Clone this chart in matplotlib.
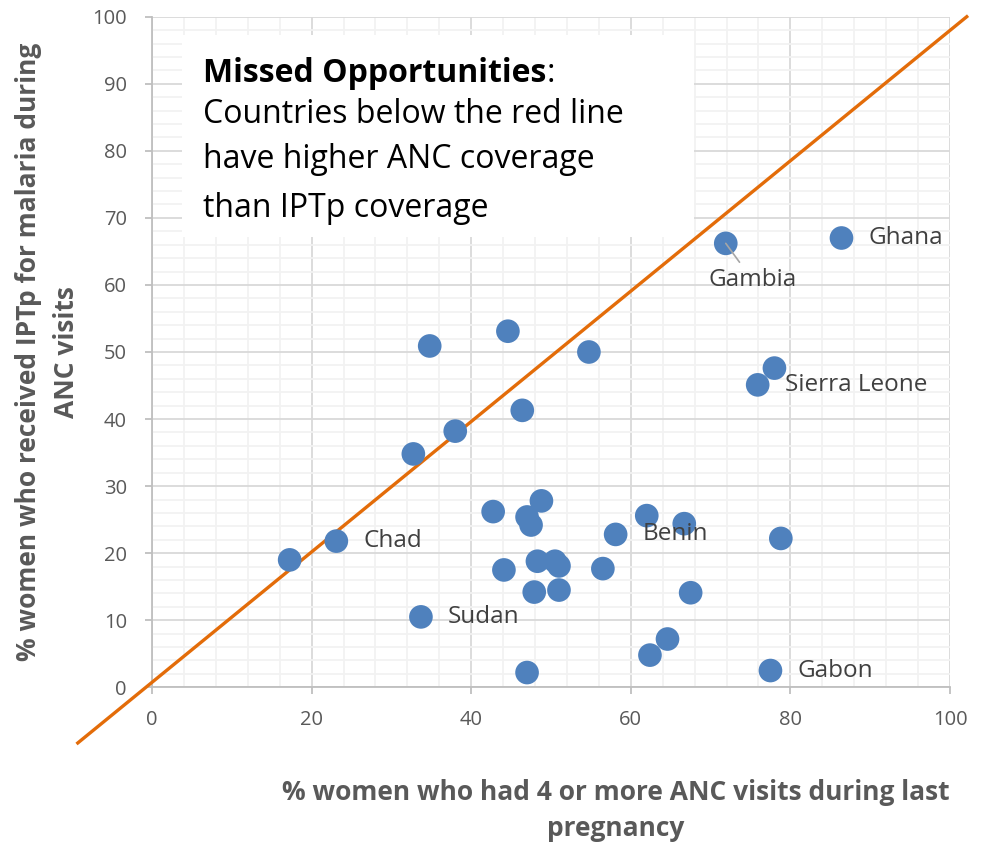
import matplotlib
matplotlib.use("Agg")
import matplotlib.pyplot as plt
from matplotlib.patches import Rectangle
from matplotlib.ticker import MultipleLocator

plt.rcParams['font.family'] = ['Open Sans', 'DejaVu Sans']

# % women with 4+ ANC visits (x) vs % receiving IPTp (y)
anc = [17.25, 23.1, 33.7, 32.75, 38.0, 34.8, 44.6, 54.75, 46.4, 42.75,
       48.8, 47.0, 47.5, 58.1, 62.0, 66.7, 78.8, 75.9, 78.0, 71.9,
       86.4, 44.1, 48.3, 50.5, 51.0, 56.5, 47.9, 51.0, 67.5, 64.6,
       62.4, 77.5, 47.0]
iptp = [19.0, 21.8, 10.5, 34.8, 38.2, 50.9, 53.1, 50.0, 41.3, 26.2,
        27.8, 25.4, 24.2, 22.8, 25.6, 24.4, 22.2, 45.1, 47.6, 66.2,
        67.0, 17.5, 18.8, 18.8, 18.1, 17.7, 14.2, 14.5, 14.1, 7.2,
        4.8, 2.5, 2.2]

# labelled countries: name -> index into the arrays
labels = {"Ghana": 20, "Sierra Leone": 17, "Chad": 1, "Sudan": 2,
          "Benin": 13, "Gabon": 31}
gambia = 19

# reference line (drawn past the axes like in the original)
ref_x = [-9.3, 102.1]
ref_y = [-8.3, 100.0]

fig = plt.figure(figsize=(9.82, 8.48), dpi=100)
ax = fig.add_axes([152 / 982, 1 - 687.3 / 848, 798 / 982, 670.6 / 848])

ax.set_xlim(0, 100)
ax.set_ylim(0, 100)
ax.xaxis.set_major_locator(MultipleLocator(20))
ax.xaxis.set_minor_locator(MultipleLocator(4))
ax.yaxis.set_major_locator(MultipleLocator(10))
ax.yaxis.set_minor_locator(MultipleLocator(2))
ax.set_axisbelow(True)
ax.grid(True, which='major', color='#D9D9D9', lw=1.3)
ax.grid(True, which='minor', color='#F2F2F2', lw=1.3)
for s in ('top', 'right'):
    ax.spines[s].set_visible(False)
for s in ('left', 'bottom'):
    ax.spines[s].set_color('#BFBFBF')
    ax.spines[s].set_linewidth(1.3)
ax.tick_params(which='major', length=5, width=1.3, color='#BFBFBF',
               labelcolor='#595959', labelsize=14.5)
ax.tick_params(axis='y', pad=13)
ax.tick_params(axis='x', pad=11)
ax.tick_params(which='minor', length=0)

# white box for the note
ax.add_patch(Rectangle((0.0376, 0.671), 0.642, 0.302, transform=ax.transAxes,
                       facecolor='white', edgecolor='none', zorder=1.5))

ax.plot(ref_x, ref_y, color='#E36C09', lw=2.4, clip_on=False, zorder=3)
ax.scatter(anc, iptp, s=290, color='#4F81BD', edgecolors='none', zorder=4)

for name, i in labels.items():
    ax.annotate(name, (anc[i], iptp[i]), xytext=(27, 0), textcoords='offset pixels',
                ha='left', va='center', fontsize=17.5, color='#404040', zorder=5)
ax.annotate("Gambia", (anc[gambia], iptp[gambia]), xytext=(27, -37),
            textcoords='offset pixels', ha='center', va='center', fontsize=17.5,
            color='#404040', zorder=5,
            arrowprops=dict(arrowstyle='-', color='#A6A6A6', lw=1.2,
                            shrinkA=3, shrinkB=0))

# note text
tx = 0.0639
fs = 23
t1 = ax.text(tx, 0.903, "Missed Opportunities", transform=ax.transAxes,
             fontsize=fs, fontweight='bold', color='black', va='baseline', zorder=5)
fig.canvas.draw()
bb = t1.get_window_extent().transformed(ax.transAxes.inverted())
ax.text(bb.x1, 0.903, ":", transform=ax.transAxes, fontsize=fs,
        color='black', va='baseline', zorder=5)
for yy, line in zip([0.841, 0.774, 0.702],
                    ["Countries below the red line", "have higher ANC coverage",
                     "than IPTp coverage"]):
    ax.text(tx, yy, line, transform=ax.transAxes, fontsize=fs, color='black',
            va='baseline', zorder=5)

tfs = 19
fig.text(616 / 982, 1 - 793 / 848, "% women who had 4 or more ANC visits during last",
         ha='center', va='center', fontsize=tfs, fontweight='bold', color='#595959')
fig.text(616 / 982, 1 - 828 / 848, "pregnancy",
         ha='center', va='center', fontsize=tfs, fontweight='bold', color='#595959')
fig.text(29 / 982, 1 - 352 / 848, "% women who received IPTp for malaria during",
         ha='center', va='center', rotation=90, fontsize=tfs, fontweight='bold',
         color='#595959')
fig.text(67 / 982, 1 - 352 / 848, "ANC visits",
         ha='center', va='center', rotation=90, fontsize=tfs, fontweight='bold',
         color='#595959')

fig.savefig("out.png", dpi=100)
